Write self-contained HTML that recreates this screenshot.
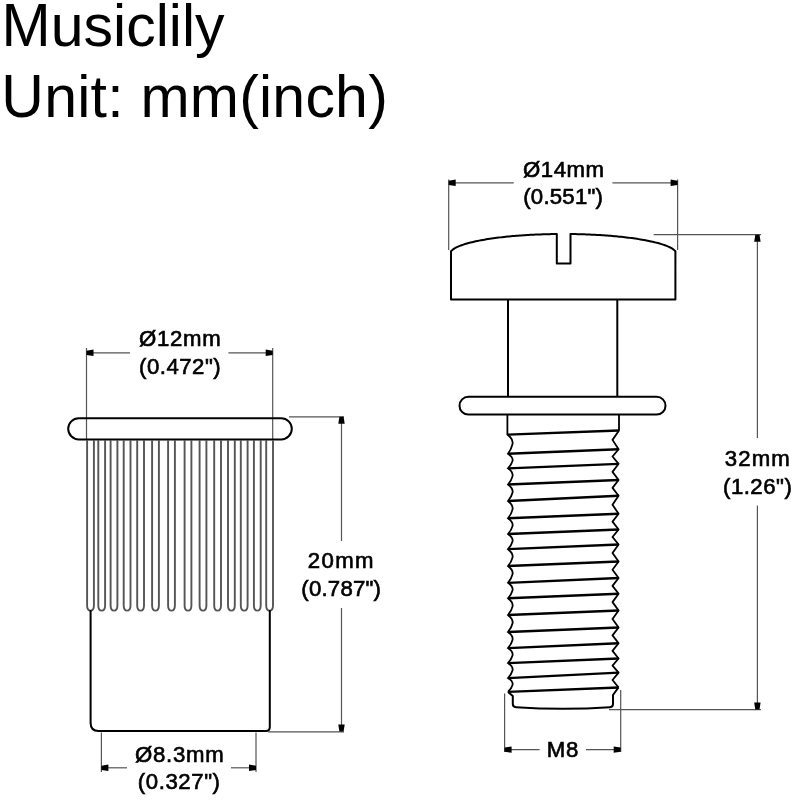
<!DOCTYPE html>
<html><head><meta charset="utf-8"><style>
html,body{margin:0;padding:0;background:#fff;}
svg{display:block;filter:blur(0.35px);}
text{font-family:"Liberation Sans",sans-serif;fill:#000;}
.d{stroke:#000;stroke-width:0.65px;}
</style></head><body>
<svg width="800" height="800" viewBox="0 0 800 800">
<text transform="translate(1.6 45.6) scale(1 1.04)" x="0" y="0" font-size="59">M</text>
<text x="50.75" y="45.60" font-size="59.00" text-anchor="start" font-weight="normal">usiclily</text>
<text transform="translate(1.3 116.6) scale(1 1.035)" x="0" y="0" font-size="59">U</text>
<text x="44.13" y="116.60" font-size="59.00" text-anchor="start" font-weight="normal" textLength="343.67" lengthAdjust="spacing">nit: mm(inch)</text>
<line x1="86.50" y1="348.00" x2="86.50" y2="440.00" stroke="#555" stroke-width="1.20"/>
<line x1="272.70" y1="348.00" x2="272.70" y2="440.00" stroke="#555" stroke-width="1.20"/>
<line x1="86.50" y1="352.80" x2="130.00" y2="352.80" stroke="#555" stroke-width="1.20"/>
<line x1="228.40" y1="352.80" x2="272.70" y2="352.80" stroke="#555" stroke-width="1.20"/>
<polygon points="86.50,350.70 86.50,354.90 93.50,356.00 93.50,349.60" fill="#000"/>
<polygon points="272.70,350.70 272.70,354.90 265.70,356.00 265.70,349.60" fill="#000"/>
<rect x="68.2" y="418.3" width="223.6" height="21.1" rx="10.55" ry="10.55" fill="none" stroke="#000" stroke-width="2"/>
<path d="M87.10 440 V605.5 Q87.10 610.6 90.50 610.6 Q93.90 610.6 93.90 605.5 V440" fill="none" stroke="#555" stroke-width="1.9"/>
<path d="M98.30 440 V605.5 Q98.30 610.6 101.70 610.6 Q105.10 610.6 105.10 605.5 V440" fill="none" stroke="#555" stroke-width="1.9"/>
<path d="M110.60 440 V605.5 Q110.60 610.6 114.00 610.6 Q117.40 610.6 117.40 605.5 V440" fill="none" stroke="#555" stroke-width="1.9"/>
<path d="M123.70 440 V605.5 Q123.70 610.6 127.10 610.6 Q130.50 610.6 130.50 605.5 V440" fill="none" stroke="#555" stroke-width="1.9"/>
<path d="M137.20 440 V605.5 Q137.20 610.6 140.60 610.6 Q144.00 610.6 144.00 605.5 V440" fill="none" stroke="#555" stroke-width="1.9"/>
<path d="M152.10 440 V605.5 Q152.10 610.6 155.50 610.6 Q158.90 610.6 158.90 605.5 V440" fill="none" stroke="#555" stroke-width="1.9"/>
<path d="M168.10 440 V605.5 Q168.10 610.6 171.50 610.6 Q174.90 610.6 174.90 605.5 V440" fill="none" stroke="#555" stroke-width="1.9"/>
<path d="M184.60 440 V605.5 Q184.60 610.6 188.00 610.6 Q191.40 610.6 191.40 605.5 V440" fill="none" stroke="#555" stroke-width="1.9"/>
<path d="M199.60 440 V605.5 Q199.60 610.6 203.00 610.6 Q206.40 610.6 206.40 605.5 V440" fill="none" stroke="#555" stroke-width="1.9"/>
<path d="M214.20 440 V605.5 Q214.20 610.6 217.60 610.6 Q221.00 610.6 221.00 605.5 V440" fill="none" stroke="#555" stroke-width="1.9"/>
<path d="M228.00 440 V605.5 Q228.00 610.6 231.40 610.6 Q234.80 610.6 234.80 605.5 V440" fill="none" stroke="#555" stroke-width="1.9"/>
<path d="M240.80 440 V605.5 Q240.80 610.6 244.20 610.6 Q247.60 610.6 247.60 605.5 V440" fill="none" stroke="#555" stroke-width="1.9"/>
<path d="M253.90 440 V605.5 Q253.90 610.6 257.30 610.6 Q260.70 610.6 260.70 605.5 V440" fill="none" stroke="#555" stroke-width="1.9"/>
<path d="M266.20 440 V605.5 Q266.20 610.6 269.60 610.6 Q273.00 610.6 273.00 605.5 V440" fill="none" stroke="#555" stroke-width="1.9"/>
<path d="M90.6 610 V723 Q90.6 731 98.6 731 H266 Q269.8 731 269.8 727 V610" fill="none" stroke="#000" stroke-width="2"/>
<line x1="289.00" y1="416.80" x2="344.00" y2="416.80" stroke="#555" stroke-width="1.20"/>
<line x1="268.00" y1="731.80" x2="344.00" y2="731.80" stroke="#555" stroke-width="1.20"/>
<line x1="341.50" y1="417.00" x2="341.50" y2="541.00" stroke="#555" stroke-width="1.20"/>
<line x1="341.50" y1="608.00" x2="341.50" y2="731.00" stroke="#555" stroke-width="1.20"/>
<polygon points="339.40,416.80 343.60,416.80 344.70,423.80 338.30,423.80" fill="#000"/>
<polygon points="339.40,731.50 343.60,731.50 344.70,724.50 338.30,724.50" fill="#000"/>
<line x1="101.40" y1="732.50" x2="101.40" y2="772.00" stroke="#555" stroke-width="1.20"/>
<line x1="256.00" y1="732.50" x2="256.00" y2="772.00" stroke="#555" stroke-width="1.20"/>
<line x1="101.40" y1="767.80" x2="127.00" y2="767.80" stroke="#555" stroke-width="1.20"/>
<line x1="231.00" y1="767.80" x2="256.00" y2="767.80" stroke="#555" stroke-width="1.20"/>
<polygon points="101.40,765.70 101.40,769.90 108.40,771.00 108.40,764.60" fill="#000"/>
<polygon points="256.00,765.70 256.00,769.90 249.00,771.00 249.00,764.60" fill="#000"/>
<line x1="448.70" y1="179.50" x2="448.70" y2="250.00" stroke="#555" stroke-width="1.20"/>
<line x1="677.60" y1="179.50" x2="677.60" y2="250.00" stroke="#555" stroke-width="1.20"/>
<line x1="448.70" y1="182.80" x2="513.70" y2="182.80" stroke="#555" stroke-width="1.20"/>
<line x1="612.40" y1="182.80" x2="677.60" y2="182.80" stroke="#555" stroke-width="1.20"/>
<polygon points="448.70,180.70 448.70,184.90 455.70,186.00 455.70,179.60" fill="#000"/>
<polygon points="677.60,180.70 677.60,184.90 670.60,186.00 670.60,179.60" fill="#000"/>
<path d="M451 299.4 V251.27 L452.76 249.61 L454.53 248.43 L456.29 247.46 L458.05 246.63 L459.82 245.90 L461.58 245.23 L463.34 244.63 L465.11 244.06 L466.87 243.54 L468.63 243.05 L470.40 242.59 L472.16 242.16 L473.92 241.74 L475.69 241.35 L477.45 240.98 L479.21 240.63 L480.98 240.29 L482.74 239.97 L484.50 239.66 L486.27 239.36 L488.03 239.08 L489.79 238.80 L491.56 238.54 L493.32 238.29 L495.08 238.05 L496.85 237.82 L498.61 237.60 L500.37 237.38 L502.14 237.18 L503.90 236.98 L505.66 236.79 L507.43 236.61 L509.19 236.44 L510.95 236.27 L512.72 236.11 L514.48 235.96 L516.24 235.81 L518.01 235.67 L519.77 235.54 L521.53 235.41 L523.30 235.29 L525.06 235.18 L526.82 235.07 L528.59 234.96 L530.35 234.87 L532.11 234.77 L533.88 234.69 L535.64 234.61 L537.40 234.53 L539.17 234.46 L540.93 234.39 L542.69 234.33 L544.46 234.28 L546.22 234.23 L547.98 234.18 L549.75 234.14 L551.51 234.11 L553.27 234.08 L555.04 234.05 L556.80 234.03 V263.5 H570.5 V234.04 L572.25 234.06 L574.00 234.09 L575.75 234.12 L577.49 234.16 L579.24 234.20 L580.99 234.25 L582.74 234.30 L584.49 234.36 L586.24 234.42 L587.98 234.49 L589.73 234.56 L591.48 234.64 L593.23 234.72 L594.98 234.81 L596.73 234.90 L598.47 235.00 L600.22 235.11 L601.97 235.22 L603.72 235.33 L605.47 235.46 L607.22 235.58 L608.96 235.72 L610.71 235.86 L612.46 236.01 L614.21 236.16 L615.96 236.32 L617.71 236.49 L619.45 236.66 L621.20 236.84 L622.95 237.03 L624.70 237.23 L626.45 237.43 L628.19 237.65 L629.94 237.87 L631.69 238.10 L633.44 238.34 L635.19 238.59 L636.94 238.85 L638.68 239.13 L640.43 239.41 L642.18 239.71 L643.93 240.01 L645.68 240.34 L647.43 240.67 L649.17 241.03 L650.92 241.40 L652.67 241.79 L654.42 242.20 L656.17 242.63 L657.92 243.09 L659.66 243.58 L661.41 244.10 L663.16 244.66 L664.91 245.27 L666.66 245.93 L668.41 246.66 L670.15 247.49 L671.90 248.45 L673.65 249.62 L675.40 251.27 V299.4 Z" fill="none" stroke="#000" stroke-width="2" stroke-linejoin="round"/>
<line x1="508.00" y1="299.40" x2="508.00" y2="396.80" stroke="#000" stroke-width="2.00"/>
<line x1="617.30" y1="299.40" x2="617.30" y2="396.80" stroke="#000" stroke-width="2.00"/>
<rect x="459.5" y="396.8" width="206" height="17.8" rx="8.9" ry="8.9" fill="none" stroke="#000" stroke-width="2"/>
<line x1="508.00" y1="434.55" x2="618.60" y2="430.50" stroke="#000" stroke-width="2.30"/>
<line x1="508.00" y1="453.75" x2="618.60" y2="449.25" stroke="#000" stroke-width="2.30"/>
<line x1="508.00" y1="468.30" x2="618.60" y2="463.80" stroke="#000" stroke-width="2.30"/>
<line x1="508.00" y1="484.50" x2="618.60" y2="480.00" stroke="#000" stroke-width="2.30"/>
<line x1="508.00" y1="501.00" x2="618.60" y2="495.75" stroke="#000" stroke-width="2.30"/>
<line x1="508.00" y1="518.25" x2="618.60" y2="513.75" stroke="#000" stroke-width="2.30"/>
<line x1="508.00" y1="534.00" x2="618.60" y2="529.50" stroke="#000" stroke-width="2.30"/>
<line x1="508.00" y1="549.20" x2="618.60" y2="544.50" stroke="#000" stroke-width="2.30"/>
<line x1="508.00" y1="566.00" x2="618.60" y2="561.50" stroke="#000" stroke-width="2.30"/>
<line x1="508.00" y1="582.80" x2="618.60" y2="578.00" stroke="#000" stroke-width="2.30"/>
<line x1="508.00" y1="598.25" x2="618.60" y2="593.75" stroke="#000" stroke-width="2.30"/>
<line x1="508.00" y1="615.00" x2="618.60" y2="610.50" stroke="#000" stroke-width="2.30"/>
<line x1="508.00" y1="632.00" x2="618.60" y2="627.50" stroke="#000" stroke-width="2.30"/>
<line x1="508.00" y1="648.10" x2="618.60" y2="643.25" stroke="#000" stroke-width="2.30"/>
<line x1="508.00" y1="663.10" x2="618.60" y2="658.50" stroke="#000" stroke-width="2.30"/>
<line x1="508.00" y1="678.10" x2="618.60" y2="672.60" stroke="#000" stroke-width="2.30"/>
<line x1="508.00" y1="691.90" x2="618.60" y2="687.50" stroke="#000" stroke-width="2.30"/>
<path d="M507.4 414.6 V434.55 Q513.50 439.35 512.50 444.15 Q511.50 448.95 508.00 453.75 Q513.50 457.39 512.50 461.02 Q511.50 464.66 508.00 468.30 Q513.50 472.35 512.50 476.40 Q511.50 480.45 508.00 484.50 Q513.50 488.62 512.50 492.75 Q511.50 496.88 508.00 501.00 Q513.50 505.31 512.50 509.62 Q511.50 513.94 508.00 518.25 Q513.50 522.19 512.50 526.12 Q511.50 530.06 508.00 534.00 Q513.50 537.80 512.50 541.60 Q511.50 545.40 508.00 549.20 Q513.50 553.40 512.50 557.60 Q511.50 561.80 508.00 566.00 Q513.50 570.20 512.50 574.40 Q511.50 578.60 508.00 582.80 Q513.50 586.66 512.50 590.52 Q511.50 594.39 508.00 598.25 Q513.50 602.44 512.50 606.62 Q511.50 610.81 508.00 615.00 Q513.50 619.25 512.50 623.50 Q511.50 627.75 508.00 632.00 Q513.50 636.02 512.50 640.05 Q511.50 644.08 508.00 648.10 Q513.50 651.85 512.50 655.60 Q511.50 659.35 508.00 663.10 Q513.50 666.85 512.50 670.60 Q511.50 674.35 508.00 678.10 Q513.50 681.55 512.50 685.00 Q511.50 688.45 508.00 691.90" fill="none" stroke="#000" stroke-width="1.8"/>
<path d="M619 414.6 V430.50 L612.5 439.88 L618.60 449.25 L612.5 456.52 L618.60 463.80 L612.5 471.90 L618.60 480.00 L612.5 487.88 L618.60 495.75 L612.5 504.75 L618.60 513.75 L612.5 521.62 L618.60 529.50 L612.5 537.00 L618.60 544.50 L612.5 553.00 L618.60 561.50 L612.5 569.75 L618.60 578.00 L612.5 585.88 L618.60 593.75 L612.5 602.12 L618.60 610.50 L612.5 619.00 L618.60 627.50 L612.5 635.38 L618.60 643.25 L612.5 650.88 L618.60 658.50 L612.5 665.55 L618.60 672.60 L612.5 680.05 L618.60 687.50" fill="none" stroke="#000" stroke-width="1.8" stroke-linejoin="round"/>
<path d="M508 692 L512.8 696 V704 Q512.8 707 516 707.2 Q563 710.5 610 707.2 Q613 707 613 704 V695 L618.4 687.5" fill="none" stroke="#000" stroke-width="2"/>
<line x1="504.60" y1="693.60" x2="504.60" y2="752.00" stroke="#555" stroke-width="1.20"/>
<line x1="620.70" y1="690.00" x2="620.70" y2="752.00" stroke="#555" stroke-width="1.20"/>
<line x1="504.60" y1="749.60" x2="539.60" y2="749.60" stroke="#555" stroke-width="1.20"/>
<line x1="586.00" y1="749.60" x2="620.70" y2="749.60" stroke="#555" stroke-width="1.20"/>
<polygon points="504.60,747.50 504.60,751.70 511.60,752.80 511.60,746.40" fill="#000"/>
<polygon points="620.70,747.50 620.70,751.70 613.70,752.80 613.70,746.40" fill="#000"/>
<line x1="653.70" y1="234.70" x2="761.00" y2="234.70" stroke="#555" stroke-width="1.20"/>
<line x1="609.00" y1="709.60" x2="761.00" y2="709.60" stroke="#555" stroke-width="1.20"/>
<line x1="757.40" y1="235.00" x2="757.40" y2="438.00" stroke="#555" stroke-width="1.20"/>
<line x1="757.40" y1="505.40" x2="757.40" y2="709.00" stroke="#555" stroke-width="1.20"/>
<polygon points="755.30,234.70 759.50,234.70 760.60,241.70 754.20,241.70" fill="#000"/>
<polygon points="755.30,709.60 759.50,709.60 760.60,702.60 754.20,702.60" fill="#000"/>
<text class="d" transform="translate(179.95 346.30) scale(1.000 1)" x="0" y="0" font-size="22.20" text-anchor="middle" textLength="81.70" lengthAdjust="spacing">&#216;12mm</text>
<text class="d" transform="translate(179.88 373.75) scale(1.000 1)" x="0" y="0" font-size="22.20" text-anchor="middle" textLength="81.75" lengthAdjust="spacing">(0.472")</text>
<text class="d" transform="translate(340.62 568.30) scale(1.000 1)" x="0" y="0" font-size="22.20" text-anchor="middle" textLength="65.75" lengthAdjust="spacing">20mm</text>
<text class="d" transform="translate(341.15 595.60) scale(1.000 1)" x="0" y="0" font-size="22.20" text-anchor="middle" textLength="79.70" lengthAdjust="spacing">(0.787")</text>
<text class="d" transform="translate(179.38 762.00) scale(1.000 1)" x="0" y="0" font-size="22.20" text-anchor="middle" textLength="88.75" lengthAdjust="spacing">&#216;8.3mm</text>
<text class="d" transform="translate(178.88 789.00) scale(1.000 1)" x="0" y="0" font-size="22.20" text-anchor="middle" textLength="82.25" lengthAdjust="spacing">(0.327")</text>
<text class="d" transform="translate(563.50 176.80) scale(1.000 1)" x="0" y="0" font-size="22.20" text-anchor="middle" textLength="81.00" lengthAdjust="spacing">&#216;14mm</text>
<text class="d" transform="translate(563.10 204.40) scale(1.000 1)" x="0" y="0" font-size="22.20" text-anchor="middle" textLength="79.80" lengthAdjust="spacing">(0.551")</text>
<text class="d" transform="translate(757.25 465.60) scale(1.000 1)" x="0" y="0" font-size="22.20" text-anchor="middle" textLength="65.00" lengthAdjust="spacing">32mm</text>
<text class="d" transform="translate(757.40 493.60) scale(1.000 1)" x="0" y="0" font-size="22.20" text-anchor="middle" textLength="68.80" lengthAdjust="spacing">(1.26")</text>
<text class="d" transform="translate(562.53 756.90) scale(1.000 1)" x="0" y="0" font-size="22.20" text-anchor="middle" textLength="31.45" lengthAdjust="spacing">M8</text>
</svg>
</body></html>
